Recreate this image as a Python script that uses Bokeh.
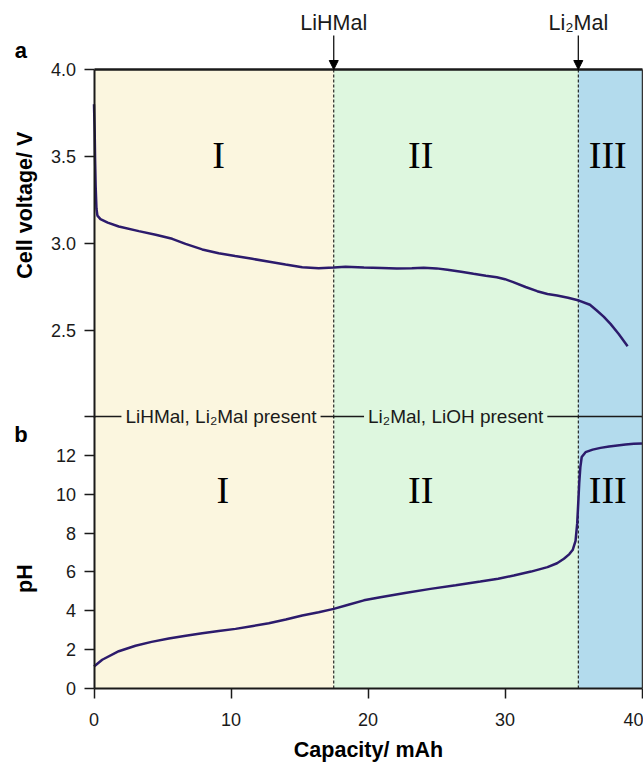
import math
from bokeh.plotting import figure
from bokeh.models import (BoxAnnotation, Label, Arrow, NormalHead, FixedTicker,
                          LinearAxis, NumeralTickFormatter, Range1d)
from bokeh.embed import file_html
from bokeh.resources import INLINE

# ---------------- data ----------------
cap_v = [0, 0.05, 0.08, 0.12, 0.18, 0.25, 0.47, 1.0, 1.81, 3.27, 4.5, 5.71, 6.68, 7.9,
         9.1, 10.3, 11.55, 12.8, 13.98, 15.2, 16.4, 17.5, 18.36, 19.7, 21.0, 22.1, 23.2,
         24.07, 25.0, 25.8, 26.8, 27.7, 28.6, 29.4, 30.0, 30.6, 31.5, 32.35, 33.1, 33.8,
         34.6, 35.4, 36.2, 36.7, 37.2, 37.7, 38.3, 38.95]
voltage = [3.80, 3.64, 3.48, 3.33, 3.20, 3.16, 3.14, 3.12, 3.098, 3.071, 3.05, 3.027, 2.998,
           2.966, 2.944, 2.928, 2.912, 2.895, 2.879, 2.864, 2.858, 2.862, 2.866, 2.862, 2.859,
           2.856, 2.858, 2.861, 2.857, 2.849, 2.838, 2.826, 2.815, 2.806, 2.795, 2.778, 2.75,
           2.726, 2.71, 2.701, 2.688, 2.672, 2.648, 2.615, 2.58, 2.538, 2.48, 2.41]

cap_ph = [0, 0.6, 1.81, 3.03, 4.2, 5.46, 6.7, 7.9, 9.1, 10.33, 11.5, 12.76, 14.0, 15.2, 16.4,
          17.5, 18.5, 19.7, 20.9, 22.7, 24.56, 26.4, 28.2, 29.5, 30.64, 31.9, 33.1, 33.8, 34.3,
          34.7, 34.95, 35.15, 35.27, 35.35, 35.42, 35.5, 35.6, 35.88, 36.4, 36.97, 37.6, 38.2,
          38.8, 39.4, 40.0]
ph = [1.13, 1.48, 1.92, 2.20, 2.40, 2.57, 2.72, 2.85, 2.96, 3.07, 3.21, 3.36, 3.55, 3.76, 3.93,
      4.10, 4.30, 4.54, 4.70, 4.92, 5.13, 5.32, 5.51, 5.65, 5.82, 6.02, 6.25, 6.45, 6.68,
      6.92, 7.15, 7.6, 8.5, 9.6, 10.6, 11.4, 11.92, 12.17, 12.3, 12.39, 12.46, 12.51,
      12.56, 12.60, 12.62]

x_ticks = [0, 10, 20, 30, 40]
v_ticks = [2.5, 3.0, 3.5, 4.0]
ph_ticks = [0, 2, 4, 6, 8, 10, 12, 14]

x_limits = (0, 40)
v_limits = (2.0, 4.0)
ph_limits = (0, 14)

region_bounds = [0, 17.5, 35.35, 40]
region_colors = ["#FBF6DF", "#DEF7DF", "#B3DBED"]
region_names = ["I", "II", "III"]
region_label_x_top = [9.1, 23.85, 37.5]
region_label_x_bot = [9.4, 23.85, 37.5]
transitions = [17.5, 35.35]
transition_names = ["LiHMal", "Li\u2082Mal"]
band_texts = ["LiHMal, Li\u2082Mal present", "Li\u2082Mal, LiOH present"]
band_text_x = [9.27, 26.4]

SANS = "Liberation Sans"
SERIF = "Liberation Serif"
CURVE = "#2C1B6C"
INK = "#1a1a1a"

# ---------------- figure geometry (pixel layout of the reference) ----------------
W, H = 643, 762
x_px0, x_scale = 93.5, 13.7          # px of x=0, px per mAh
ph_px0, ph_scale = 688.0, 19.42       # px of pH 0, px per pH unit
v_px4, v_scale = 69.0, 174.0          # px of 4.0 V, px per volt

x_start = -x_px0 / x_scale
x_end = x_start + W / x_scale
ph_start = -(H - ph_px0) / ph_scale
ph_end = ph_px0 / ph_scale
v_start = 4.0 - (H - v_px4) / v_scale
v_end = 4.0 + v_px4 / v_scale

p = figure(width=W, height=H, x_range=Range1d(x_start, x_end),
           y_range=Range1d(ph_start, ph_end), output_backend="svg", toolbar_location=None,
           min_border=0, x_axis_location=None, y_axis_location=None)
p.extra_y_ranges = {"v": Range1d(v_start, v_end)}
p.outline_line_color = None
p.background_fill_color = "white"
p.border_fill_color = "white"
for g in p.grid:
    g.visible = False

# coloured regions (top panel in volts, bottom panel in pH)
for i in range(3):
    p.add_layout(BoxAnnotation(left=region_bounds[i], right=region_bounds[i + 1],
                               bottom=ph_limits[0], top=ph_limits[1],
                               fill_color=region_colors[i], fill_alpha=1,
                               line_color=None, level="underlay"))
    p.add_layout(BoxAnnotation(left=region_bounds[i], right=region_bounds[i + 1],
                               bottom=v_limits[0], top=v_limits[1], y_range_name="v",
                               fill_color=region_colors[i], fill_alpha=1,
                               line_color=None, level="underlay"))

# dashed transition lines
p.segment(x0=transitions, y0=[ph_limits[0]] * 2, x1=transitions, y1=[ph_limits[1]] * 2,
          line_color="black", line_dash="3 2", line_width=1)
p.segment(x0=transitions, y0=[v_limits[0]] * 2, x1=transitions, y1=[v_limits[1]] * 2,
          y_range_name="v", line_color="black", line_dash="3 2", line_width=1)

# curves
p.line(cap_v, voltage, y_range_name="v", line_color=CURVE, line_width=2.5)
p.line(cap_ph, ph, line_color=CURVE, line_width=2.5)


def style_axis(ax):
    ax.axis_line_width = 2
    ax.axis_line_color = INK
    ax.major_tick_out = 10
    ax.major_tick_in = 0
    ax.major_tick_line_width = 1.5
    ax.major_tick_line_color = INK
    ax.minor_tick_line_color = None
    ax.major_label_text_font = SANS
    ax.major_label_text_font_size = "18px"
    ax.major_label_text_color = INK


def plain_axis(**kw):
    ax = LinearAxis(ticker=FixedTicker(ticks=[]), major_label_text_font_size="0px",
                    major_tick_out=0, major_tick_in=0, minor_tick_line_color=None, **kw)
    return ax


# left axes
vax = LinearAxis(y_range_name="v", fixed_location=0, bounds=v_limits,
                 ticker=FixedTicker(ticks=v_ticks), formatter=NumeralTickFormatter(format="0.0"))
style_axis(vax)
vax.major_label_standoff = 8
p.add_layout(vax, "left")

phax = LinearAxis(fixed_location=0, bounds=ph_limits, ticker=FixedTicker(ticks=ph_ticks))
style_axis(phax)
phax.major_label_standoff = 8
phax.major_label_overrides = {14: ""}
p.add_layout(phax, "left")

# bottom axis
xax = LinearAxis(fixed_location=0, bounds=x_limits, ticker=FixedTicker(ticks=x_ticks))
style_axis(xax)
xax.major_label_standoff = 14
xax.axis_label = "Capacity/ mAh"
xax.axis_label_text_font = SANS
xax.axis_label_text_font_style = "bold"
xax.axis_label_text_font_size = "21.5px"
xax.axis_label_standoff = 9
xax.axis_label_text_color = "black"
p.add_layout(xax, "below")

# top border, divider line, right border
p.add_layout(plain_axis(y_range_name="v", fixed_location=v_limits[1], bounds=x_limits,
                        axis_line_width=2.5, axis_line_color=INK), "above")
p.add_layout(plain_axis(fixed_location=ph_limits[1], bounds=x_limits,
                        axis_line_width=1.5, axis_line_color=INK), "below")
p.add_layout(plain_axis(fixed_location=x_limits[1], bounds=ph_limits,
                        axis_line_width=1.5, axis_line_color="#333"), "right")
p.add_layout(plain_axis(y_range_name="v", fixed_location=x_limits[1], bounds=v_limits,
                        axis_line_width=1.5, axis_line_color="#333"), "right")

# region numerals
for xn, nm in zip(region_label_x_top, region_names):
    p.add_layout(Label(x=xn, y=3.506, y_range_name="v", text=nm, text_font=SERIF,
                       text_font_size="38px", text_align="center", text_baseline="middle",
                       text_color="black"))
for xn, nm in zip(region_label_x_bot, region_names):
    p.add_layout(Label(x=xn, y=10.2, text=nm, text_font=SERIF, text_font_size="38px",
                       text_align="center", text_baseline="middle", text_color="black"))

# transition arrows and names
for t, nm in zip(transitions, transition_names):
    p.add_layout(Arrow(end=NormalHead(size=9, fill_color="black", line_color="black"),
                       x_start=t, y_start=4.0 + 34 / v_scale, x_end=t, y_end=4.0,
                       y_range_name="v", line_width=1.2, line_color="black"))
    p.add_layout(Label(x=t, y=4.0 + 46.5 / v_scale, y_range_name="v", text=nm,
                       text_font=SANS, text_font_size="21.5px", text_align="center",
                       text_baseline="middle", text_color=INK))

# band texts on the divider line
for xt, txt, col in zip(band_text_x, band_texts, region_colors[:2]):
    p.add_layout(Label(x=xt, y=ph_limits[1], text=txt, text_font=SANS, text_font_size="19px",
                       text_align="center", text_baseline="middle", text_color=INK,
                       background_fill_color=col, background_fill_alpha=1, padding=4))

# panel letters and y-axis titles
p.add_layout(Label(x=-5.33, y=4.0 + 19.5 / v_scale, y_range_name="v", text="a",
                   text_font=SANS, text_font_style="bold", text_font_size="22px",
                   text_align="center", text_baseline="middle", text_color="black"))
p.add_layout(Label(x=-5.33, y=13.08, text="b", text_font=SANS, text_font_style="bold",
                   text_font_size="22px", text_align="center", text_baseline="middle",
                   text_color="black"))
p.add_layout(Label(x=-5.07, y=3.22, y_range_name="v", text="Cell voltage/ V",
                   text_font=SANS, text_font_style="bold", text_font_size="21.5px",
                   angle=math.pi / 2, text_align="center", text_baseline="middle",
                   text_color="black"))
p.add_layout(Label(x=-5.07, y=5.66, text="pH", text_font=SANS, text_font_style="bold",
                   text_font_size="21.5px", angle=math.pi / 2, text_align="center",
                   text_baseline="middle", text_color="black"))

open("out.html", "w").write(file_html(p, INLINE))
